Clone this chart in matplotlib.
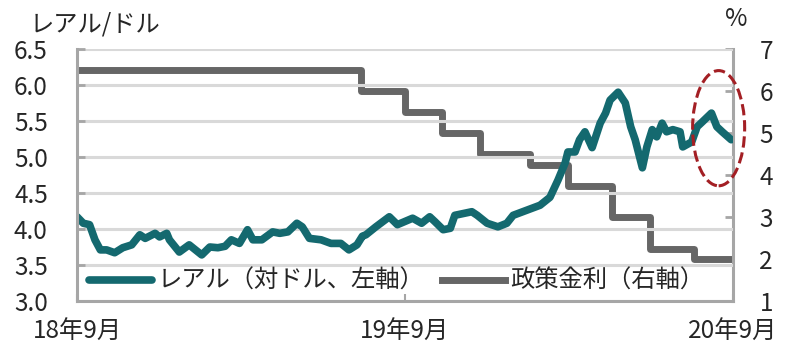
import numpy as np
import pandas as pd
import matplotlib as mpl
import matplotlib.pyplot as plt
import matplotlib.dates as mdates
from matplotlib.patches import Ellipse

plt.rcParams['font.family'] = ['Noto Sans CJK JP', 'DejaVu Sans']

# レアル（対ドル）
brl_dates = [
    '2018-09-18', '2018-09-25', '2018-10-02', '2018-10-08', '2018-10-14', '2018-10-21',
    '2018-10-30', '2018-11-08', '2018-11-18', '2018-11-27', '2018-12-03', '2018-12-14',
    '2018-12-19', '2018-12-27', '2018-12-30', '2019-01-10', '2019-01-21', '2019-02-04',
    '2019-02-13', '2019-02-22', '2019-03-02', '2019-03-09', '2019-03-18', '2019-03-27',
    '2019-04-02', '2019-04-12', '2019-04-24', '2019-05-02', '2019-05-11', '2019-05-21',
    '2019-05-27', '2019-06-04', '2019-06-17', '2019-06-28', '2019-07-09', '2019-07-18',
    '2019-07-27', '2019-08-02', '2019-08-06', '2019-08-17', '2019-09-01', '2019-09-10',
    '2019-09-27', '2019-10-07', '2019-10-16', '2019-10-22', '2019-10-31', '2019-11-08',
    '2019-11-13', '2019-12-02', '2019-12-08', '2019-12-19', '2019-12-31', '2020-01-10',
    '2020-01-17', '2020-02-01', '2020-02-16', '2020-02-27', '2020-03-07', '2020-03-15',
    '2020-03-18', '2020-03-26', '2020-03-31', '2020-04-06', '2020-04-14', '2020-04-23',
    '2020-04-29', '2020-05-04', '2020-05-13', '2020-05-21', '2020-05-27', '2020-06-01',
    '2020-06-09', '2020-06-14', '2020-06-20', '2020-06-25', '2020-07-01', '2020-07-06',
    '2020-07-13', '2020-07-21', '2020-07-24', '2020-08-03', '2020-08-09', '2020-08-15',
    '2020-08-25', '2020-08-31', '2020-09-06', '2020-09-16',
]
brl_values = [
    4.17, 4.08, 4.06, 3.85, 3.71, 3.71,
    3.67, 3.74, 3.78, 3.92, 3.87, 3.94,
    3.89, 3.94, 3.85, 3.68, 3.78, 3.64,
    3.75, 3.74, 3.76, 3.85, 3.80, 3.99,
    3.85, 3.85, 3.96, 3.94, 3.96, 4.08,
    4.03, 3.87, 3.85, 3.80, 3.80, 3.71,
    3.78, 3.90, 3.92, 4.03, 4.17, 4.06,
    4.15, 4.08, 4.17, 4.10, 3.99, 4.01,
    4.19, 4.24, 4.19, 4.08, 4.03, 4.08,
    4.19, 4.26, 4.33, 4.44, 4.68, 4.92,
    5.07, 5.07, 5.24, 5.35, 5.13, 5.47,
    5.61, 5.79, 5.90, 5.75, 5.42, 5.24,
    4.85, 5.14, 5.38, 5.28, 5.47, 5.35,
    5.38, 5.35, 5.14, 5.21, 5.42, 5.49,
    5.61, 5.42, 5.35, 5.24,
]

# 政策金利（Selic）
rate_dates = ['2018-09-18', '2019-07-31', '2019-09-18', '2019-10-30', '2019-12-11',
              '2020-02-05', '2020-03-18', '2020-05-06', '2020-06-17', '2020-08-05',
              '2020-09-18']
rate_values = [6.5, 6.0, 5.5, 5.0, 4.5, 4.25, 3.75, 3.0, 2.25, 2.0, 2.0]

x_ticks = ['2018-09-18', '2019-09-18', '2020-09-18']
x_labels = ['18年9月', '19年9月', '20年9月']

teal = '#14696f'
grey = '#666666'
spine_c = '#a6a6a6'
grid_c = '#d9d9d9'
text_c = '#262626'
fs = 17.5

fig = plt.figure(figsize=(7.88, 3.58), dpi=100)
ax = fig.add_axes([77/788, 57/358, 656/788, 252/358])
ax2 = ax.twinx()
ax.set_zorder(ax2.get_zorder() + 1)
ax.patch.set_visible(False)

bd = pd.to_datetime(brl_dates)
rd = pd.to_datetime(rate_dates)
l2, = ax2.plot(rd, rate_values, drawstyle='steps-post', color=grey, lw=5,
               solid_joinstyle='round', label='政策金利（右軸）')
l1, = ax.plot(bd, brl_values, color=teal, lw=5.5, solid_joinstyle='round',
              solid_capstyle='round', label='レアル（対ドル、左軸）')

xt = pd.to_datetime(x_ticks)
ax.set_xlim(xt[0], xt[-1])
ax.set_xticks(xt)
ax.set_xticklabels(x_labels)
ax.set_ylim(3.0, 6.5)
ax.set_yticks(np.arange(3.0, 6.51, 0.5))
ax.set_yticklabels([f'{v:.1f}' for v in np.arange(3.0, 6.51, 0.5)])
ax2.set_ylim(1, 7)
ax2.set_yticks(range(1, 8))

ax.grid(axis='y', color=grid_c, lw=2.2)
ax.set_axisbelow(True)
ax2.grid(False)

for a in (ax, ax2):
    a.spines['top'].set_visible(False)
    for s in ('left', 'right', 'bottom'):
        a.spines[s].set_color(spine_c)
        a.spines[s].set_linewidth(2.2)
ax.spines['right'].set_visible(False)
ax2.spines['left'].set_visible(False)
ax2.spines['bottom'].set_visible(False)

ax.tick_params(axis='y', direction='in', length=6, width=2, color=spine_c,
               labelsize=fs, labelcolor=text_c, pad=21)
ax.tick_params(axis='x', direction='in', length=5, width=1.5, color=spine_c,
               labelsize=fs, labelcolor=text_c, pad=13)
ax2.tick_params(axis='y', direction='in', length=6, width=2, color=spine_c,
                labelsize=fs, labelcolor=text_c, pad=19)

ax.legend(handles=[l1, l2], loc='center left', bbox_to_anchor=(0.0, 0.079),
          ncol=2, frameon=False, fontsize=fs, handlelength=2.6,
          handletextpad=0.2, columnspacing=0.75, borderpad=0.5, borderaxespad=0,
          labelcolor=text_c)

# 直近の動きを囲む楕円
cx = mdates.date2num(pd.Timestamp('2020-09-02'))
ell = Ellipse((cx, 5.40), width=58, height=1.6, fill=False, ec='#a31f24',
              ls='--', lw=2.2, clip_on=False, zorder=10)
ax.add_patch(ell)

fig.text(30/788, 1 - 25/358, 'レアル/ドル', ha='left', va='center',
         fontsize=fs, color=text_c)
fig.text(736/788, 1 - 19/358, '%', ha='center', va='center',
         fontsize=fs, color=text_c)

fig.savefig('out.png', dpi=100)
